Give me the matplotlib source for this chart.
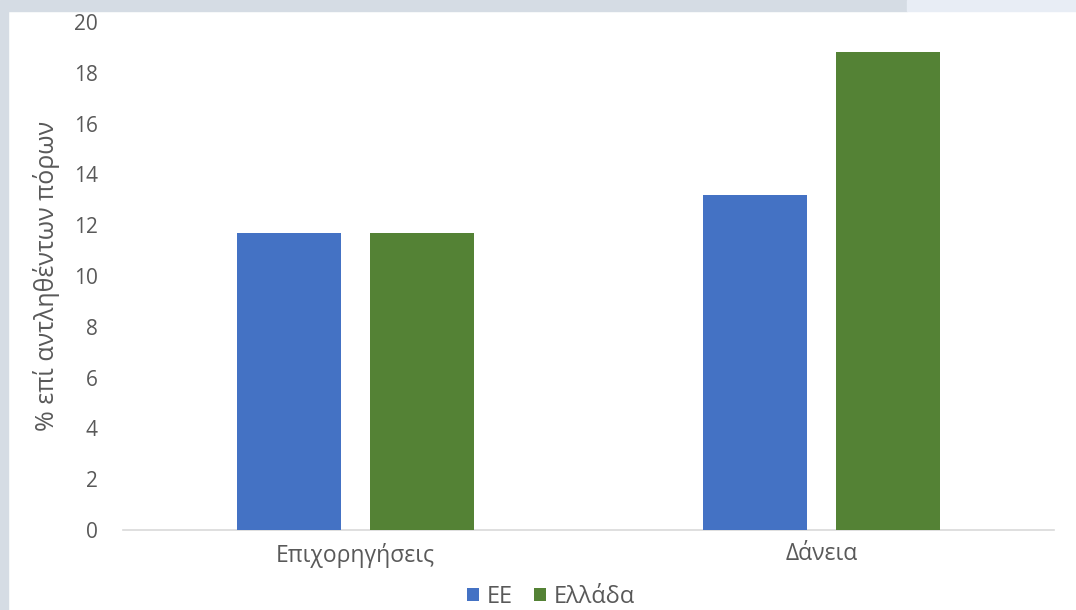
import numpy as np
import matplotlib
matplotlib.use('Agg')
import matplotlib.pyplot as plt
from matplotlib.patches import Rectangle

categories = ['Επιχορηγήσεις', 'Δάνεια']
series_names = ['ΕΕ', 'Ελλάδα']
eu_values = [11.7, 13.2]
gr_values = [11.7, 18.8]
y_ticks = [0, 2, 4, 6, 8, 10, 12, 14, 16, 18, 20]

TEXT = '#595959'
BLUE = '#4472C4'
GREEN = '#548235'

plt.rcParams['font.family'] = ['Open Sans', 'DejaVu Sans']

fig = plt.figure(figsize=(10.76, 6.10), dpi=100)
fig.patch.set_facecolor('white')

# window chrome around the chart
fig.patches.append(Rectangle((0, 1 - 11 / 610), 907 / 1076, 11 / 610,
                             transform=fig.transFigure, color='#d5dce4', zorder=0))
fig.patches.append(Rectangle((907 / 1076, 1 - 11 / 610), 1 - 907 / 1076, 11 / 610,
                             transform=fig.transFigure, color='#e8edf5', zorder=0))
fig.patches.append(Rectangle((0, 0), 8 / 1076, 1 - 11 / 610,
                             transform=fig.transFigure, color='#d5dce4', zorder=0))

ax = fig.add_axes([123 / 1076, 80 / 610, 931 / 1076, 508 / 610])
x = np.arange(len(categories))
width = 0.223
offset = 0.1427
ax.bar(x - offset, eu_values, width, color=BLUE, label=series_names[0], zorder=2)
ax.bar(x + offset, gr_values, width, color=GREEN, label=series_names[1], zorder=2)

ax.set_xlim(-0.499, 1.499)
ax.set_ylim(0, 20)
ax.set_yticks(y_ticks)
ax.set_xticks(x)
ax.set_xticklabels(categories)
ax.tick_params(axis='both', length=0, colors=TEXT)
ax.tick_params(axis='x', pad=9, labelsize=16.5)
ax.tick_params(axis='y', pad=18, labelsize=15)
for side in ('top', 'right', 'left'):
    ax.spines[side].set_visible(False)
ax.spines['bottom'].set_color('#d9d9d9')
ax.spines['bottom'].set_linewidth(1.2)
ax.spines['bottom'].set_zorder(1)

ax.set_ylabel('% επί αντληθέντων πόρων', color=TEXT, fontsize=18, labelpad=10)

leg = fig.legend(loc='center', bbox_to_anchor=(551 / 1076, 1 - 597 / 610), ncol=2,
                 frameon=False, fontsize=17, handlelength=0.5, handleheight=0.5,
                 handletextpad=0.35, columnspacing=0.9)
for t in leg.get_texts():
    t.set_color(TEXT)

fig.savefig('out.png', dpi=100)
